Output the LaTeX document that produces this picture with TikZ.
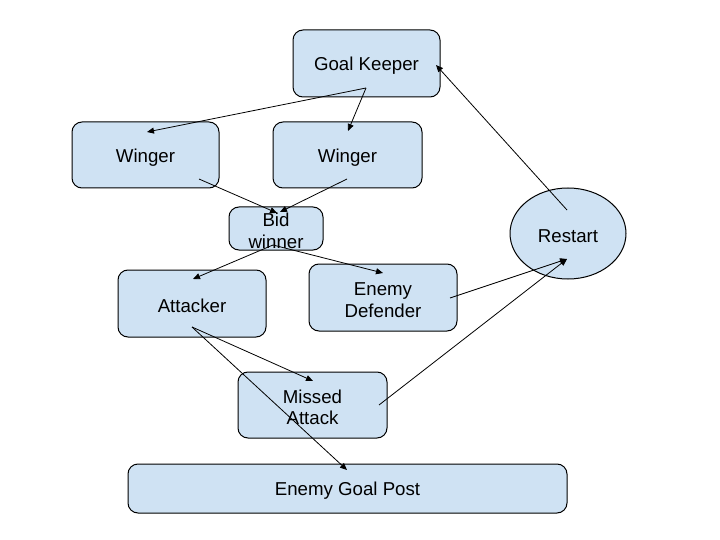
\documentclass[tikz,border=0pt]{standalone}
\usepackage{fontspec}
\setmainfont{Liberation Sans}
\usetikzlibrary{arrows.meta,shapes.geometric}
\definecolor{boxfill}{HTML}{CFE2F3}
\begin{document}
\begin{tikzpicture}[x=1pt,y=-1pt,
  box/.style={draw=black, fill=boxfill, line width=1pt, rounded corners=10pt, inner sep=0pt},
  oval/.style={draw=black, fill=boxfill, line width=1pt, ellipse, inner sep=0pt,
    minimum width=116pt, minimum height=91pt},
  txt/.style={inner sep=0pt, align=center, yshift=-2.5pt, font=\fontsize{18.67}{21.5}\selectfont},
  conn/.style={line width=0.8pt, -{Triangle[length=7pt,width=6pt]}}]
\useasboundingbox (0,0) rectangle (720,540);
\node[box, minimum width=147pt, minimum height=67pt] (gk) at (366.5,63.5) {};
\node[box, minimum width=147pt, minimum height=66pt] (w1) at (145.5,155) {};
\node[box, minimum width=149pt, minimum height=66pt] (w2) at (347.5,155) {};
\node[box, minimum width=94pt, minimum height=43pt] (bid) at (276,228.5) {};
\node[box, minimum width=148pt, minimum height=67pt] (att) at (192,303.5) {};
\node[box, minimum width=148pt, minimum height=67pt] (def) at (383,297.5) {};
\node[oval] (rs) at (568,233.5) {};
\node[box, minimum width=149pt, minimum height=66pt] (miss) at (312.5,405) {};
\node[box, minimum width=439pt, minimum height=49pt] (goal) at (347.5,488.5) {};

\node[txt] (gk-t) at (gk.center) {Goal Keeper};
\node[txt] (w1-t) at (w1.center) {Winger};
\node[txt] (w2-t) at (w2.center) {Winger};
\node[txt] (bid-t) at (bid.center) {Bid\\winner};
\node[txt] (att-t) at (att.center) {Attacker};
\node[txt] (def-t) at (def.center) {Enemy\\Defender};
\node[txt] (rs-t) at (rs.center) {Restart};
\node[txt] (miss-t) at (miss.center) {Missed\\Attack};
\node[txt] (goal-t) at (goal.center) {Enemy Goal Post};

\draw[conn] ([shift={(-0.5,24.5)}]gk.center) -- ([shift={(1.5,-23)}]w1.center);
\draw[conn] ([shift={(-0.5,24.5)}]gk.center) -- ([shift={(0.5,-24)}]w2.center);
\draw[conn] ([shift={(53.5,24)}]w1.center) -- ([shift={(1,-15.5)}]bid.center);
\draw[conn] ([shift={(-0.5,24)}]w2.center) -- ([shift={(4,-16.5)}]bid.center);
\draw[conn] ([shift={(-3,16.5)}]bid.center) -- ([shift={(1,-24.5)}]att.center);
\draw[conn] ([shift={(-3,16.5)}]bid.center) -- ([shift={(0,-24.5)}]def.center);
\draw[conn] ([shift={(67,0.5)}]def.center) -- ([shift={(-1,25.5)}]rs.center);
\draw[conn] ([shift={(66.5,0)}]miss.center) -- ([shift={(-1,25.5)}]rs.center);
\draw[conn] ([shift={(-1,-23.5)}]rs.center) -- ([shift={(69.5,1.5)}]gk.center);
\draw[conn] ([shift={(0,23.5)}]att.center) -- ([shift={(0.5,-24)}]miss.center);
\draw[conn] ([shift={(0,23.5)}]att.center) -- ([shift={(-0.5,-18.5)}]goal.center);
\end{tikzpicture}
\end{document}
